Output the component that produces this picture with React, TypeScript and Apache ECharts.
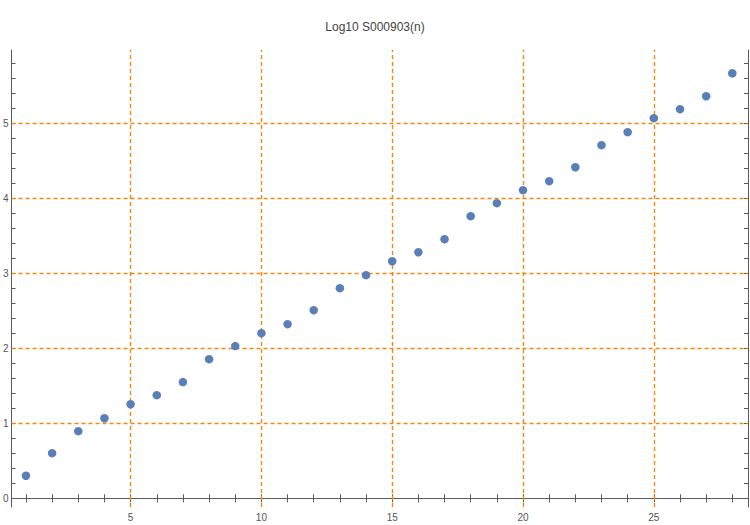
import React, { useEffect, useRef } from "react";
import * as echarts from "echarts";

const titleText = "Log10 S000903(n)";
const nValues = [1, 2, 3, 4, 5, 6, 7, 8, 9, 10, 11, 12, 13, 14, 15, 16, 17, 18, 19, 20, 21, 22, 23, 24, 25, 26, 27, 28];
const logValues = [0.301, 0.602, 0.895, 1.068, 1.254, 1.375, 1.549, 1.855, 2.029, 2.202, 2.322, 2.508, 2.802, 2.975, 3.161, 3.281, 3.455, 3.762, 3.935, 4.108, 4.228, 4.414, 4.708, 4.882, 5.068, 5.188, 5.361, 5.667];
const xLabelTicks = [5, 10, 15, 20, 25];
const xMinorTicks = [1, 2, 3, 4, 5, 6, 7, 8, 9, 10, 11, 12, 13, 14, 15, 16, 17, 18, 19, 20, 21, 22, 23, 24, 25, 26, 27, 28];
const yLabelTicks = [0, 1, 2, 3, 4, 5];
const yMinorTicks = [0, 0.2, 0.4, 0.6, 0.8, 1, 1.2, 1.4, 1.6, 1.8, 2, 2.2, 2.4, 2.6, 2.8, 3, 3.2, 3.4, 3.6, 3.8, 4, 4.2, 4.4, 4.6, 4.8, 5, 5.2, 5.4, 5.6, 5.8];
const xGridLines = [5, 10, 15, 20, 25];
const yGridLines = [1, 2, 3, 4, 5];

const X_MIN = 0.45;
const X_MAX = 28.6;
const Y_MIN = -0.116;
const Y_MAX = 5.977;

export default function App() {
  const ref = useRef<HTMLDivElement>(null);
  useEffect(() => {
    if (!ref.current) return;
    const chart = echarts.init(ref.current, null, { renderer: "svg" });
    const axisLine = { show: true, lineStyle: { color: "#5a5a5a", width: 1 } };
    const labelStyle = { color: "#555", fontSize: 10, fontFamily: "Liberation Sans, Arial, sans-serif" };
    const gridColor = "#f2880f";
    const commonX = {
      type: "value" as const,
      min: X_MIN,
      max: X_MAX,
      axisLine,
      splitLine: { show: false },
    };
    const commonY = {
      type: "value" as const,
      min: Y_MIN,
      max: Y_MAX,
      axisLine,
      splitLine: { show: false },
    };
    chart.setOption({
      animation: false,
      backgroundColor: "#ffffff",
      title: {
        text: titleText,
        left: "center",
        top: 16,
        textStyle: { color: "#444", fontSize: 12, fontWeight: "normal", fontFamily: "Liberation Sans, Arial, sans-serif" },
      },
      grid: { left: 9, right: 2, top: 50, bottom: 18, containLabel: false },
      xAxis: [
        {
          ...commonX,
          position: "bottom",
          axisTick: { show: true, inside: true, length: 4, customValues: xMinorTicks, lineStyle: { color: "#5a5a5a" } },
          axisLabel: { show: true, customValues: xLabelTicks, margin: 5, ...labelStyle },
        },
        {
          ...commonX,
          position: "top",
          axisTick: { show: true, inside: true, length: 4, customValues: xMinorTicks, lineStyle: { color: "#5a5a5a" } },
          axisLabel: { show: false },
        },
      ],
      yAxis: [
        {
          ...commonY,
          position: "left",
          axisTick: { show: true, inside: true, length: 4, customValues: yMinorTicks, lineStyle: { color: "#5a5a5a" } },
          axisLabel: { show: true, customValues: yLabelTicks, margin: 3, ...labelStyle },
        },
        {
          ...commonY,
          position: "right",
          axisTick: { show: true, inside: true, length: 4, customValues: yMinorTicks, lineStyle: { color: "#5a5a5a" } },
          axisLabel: { show: false },
        },
      ],
      series: [
        {
          type: "scatter",
          xAxisIndex: 0,
          yAxisIndex: 0,
          data: nValues.map((n, i) => [n, logValues[i]]),
          symbol: "circle",
          symbolSize: 8.5,
          itemStyle: { color: "#5a7fb8", opacity: 1 },
          z: 5,
          markLine: {
            silent: true,
            symbol: ["none", "none"],
            label: { show: false },
            lineStyle: { color: gridColor, type: [4, 3], width: 1.4, opacity: 1 },
            data: [
              ...xGridLines.map((v) => ({ xAxis: v })),
              ...yGridLines.map((v) => ({ yAxis: v })),
            ],
            z: 1,
          },
        },
      ],
    });
    return () => chart.dispose();
  }, []);
  return <div ref={ref} style={{ width: 750, height: 525, position: "absolute", left: 0, top: 0 }} />;
}
